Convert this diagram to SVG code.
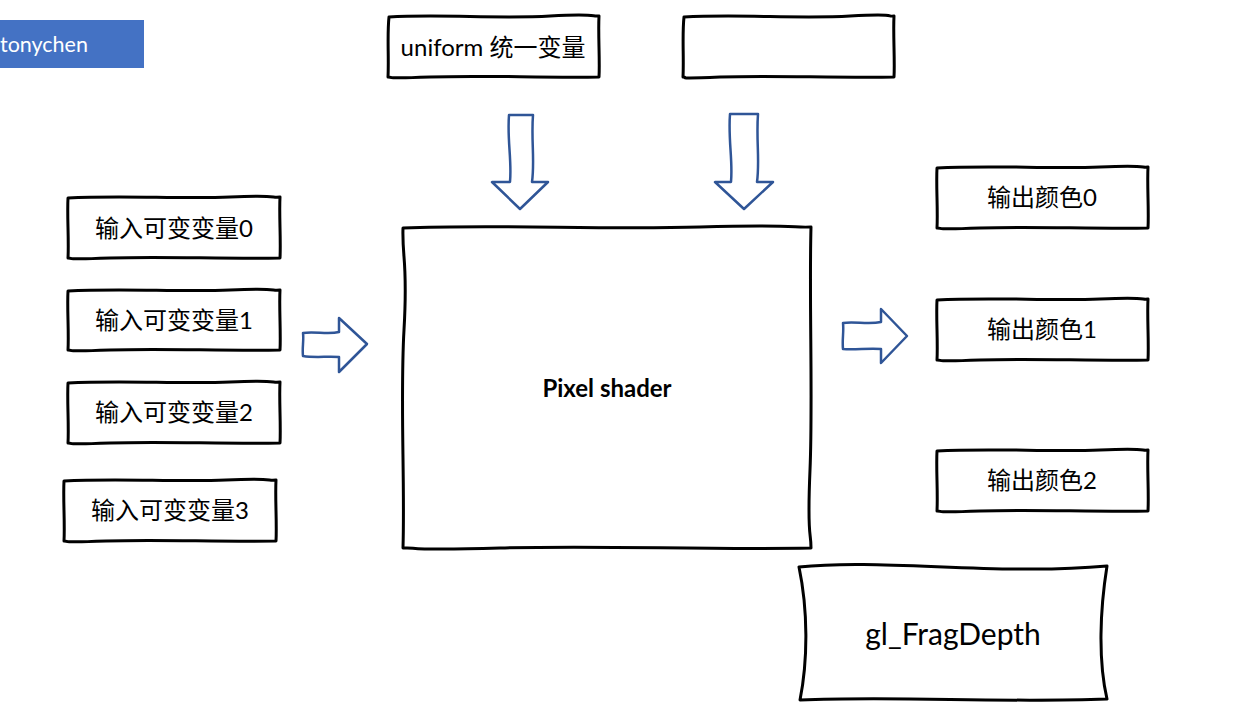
<svg xmlns="http://www.w3.org/2000/svg" width="1234" height="712" viewBox="0 0 1234 712">
<style>
.box{fill:#fff;stroke:#000;stroke-width:3;stroke-linejoin:round}
.arr{fill:#fff;stroke:#2F5597;stroke-width:2.5;stroke-linejoin:round}
.t{font-family:"Lato","Noto Sans CJK SC",sans-serif;font-size:24px;fill:#000;text-anchor:middle}
</style>
<rect width="1234" height="712" fill="#fff"/>
<g id="author">
<rect x="0" y="20" width="144" height="48" fill="#4472C4"/>
<text x="0" y="52" style="font-family:'Lato','Noto Sans',sans-serif;font-size:21.5px;fill:#fff">tonychen</text>
</g>
<g id="uniform">
<path class="box" d="M389,17 C440,14 500,19 550,16 S590,17 599,16 C598,35 600,60 599,77 C540,78 480,75 430,77 S395,77 388,77 C389,58 387,35 389,17 Z"/>
<text class="t" x="493" y="56">uniform 统一变量</text>
</g>
<g id="empty">
<path class="box" d="M684,17 C740,14 800,19 850,16 S885,17 894,16 C893,35 895,60 894,77 C830,78 770,75 720,77 S690,77 683,77 C684,58 682,35 684,17 Z"/>
</g>
<g id="in0">
<path class="box" d="M68,198 C120,195 180,199 230,197 S270,198 280,197 C279,215 281,240 280,258 C220,259 160,256 110,258 S75,258 68,258 C69,240 67,215 68,198 Z"/>
<text class="t" x="174" y="237">输入可变变量0</text>
</g>
<g id="in1">
<path class="box" d="M68,291 C120,288 180,292 230,290 S270,291 280,290 C279,308 281,333 280,350 C220,351 160,348 110,350 S75,350 68,350 C69,332 67,308 68,291 Z"/>
<text class="t" x="174" y="329">输入可变变量1</text>
</g>
<g id="in2">
<path class="box" d="M68,383 C120,380 180,384 230,382 S270,383 280,382 C279,400 281,425 280,443 C220,444 160,441 110,443 S75,443 68,443 C69,425 67,400 68,383 Z"/>
<text class="t" x="174" y="421">输入可变变量2</text>
</g>
<g id="in3">
<path class="box" d="M64,481 C116,478 176,482 226,480 S266,481 276,480 C275,498 277,523 276,541 C216,542 156,539 106,541 S71,541 64,541 C65,523 63,498 64,481 Z"/>
<text class="t" x="170" y="519">输入可变变量3</text>
</g>
<g id="shader">
<path class="box" d="M403,228 C500,224 600,230 700,227 S790,228 811,227 C809,300 813,400 810,470 S811,530 811,548 C700,550 600,545 500,548 S420,547 403,548 C405,480 400,400 404,330 S402,260 403,228 Z"/>
<text x="607" y="397" style="font-family:'Lato','Noto Sans',sans-serif;font-size:24px;font-weight:bold;fill:#000;text-anchor:middle">Pixel shader</text>
</g>
<g id="out0">
<path class="box" d="M937,168 C990,165 1050,169 1100,167 S1140,168 1148,167 C1147,185 1149,210 1148,228 C1090,229 1030,226 980,228 S945,228 937,228 C938,210 936,185 937,168 Z"/>
<text class="t" x="1042" y="206">输出颜色0</text>
</g>
<g id="out1">
<path class="box" d="M937,300 C990,297 1050,301 1100,299 S1140,300 1148,299 C1147,317 1149,342 1148,360 C1090,361 1030,358 980,360 S945,360 937,360 C938,342 936,317 937,300 Z"/>
<text class="t" x="1042" y="338">输出颜色1</text>
</g>
<g id="out2">
<path class="box" d="M937,451 C990,448 1050,452 1100,450 S1140,451 1148,450 C1147,468 1149,493 1148,511 C1090,512 1030,509 980,511 S945,511 937,511 C938,493 936,468 937,451 Z"/>
<text class="t" x="1042" y="489">输出颜色2</text>
</g>
<g id="fragdepth">
<path class="box" d="M799,567 C880,558 1000,576 1107,566 C1100,610 1098,660 1107,699 C1000,703 900,696 800,700 C808,660 808,610 799,567 Z"/>
<text x="953" y="645" style="font-family:'Lato','Noto Sans',sans-serif;font-size:30px;fill:#000;text-anchor:middle">gl_FragDepth</text>
</g>
<g id="connectors">
<path class="arr" d="M509,115 L533,115 C531,140 535,160 532,182 L548,182 L520,209 L492,182 L510,182 C512,160 507,140 509,115 Z"/>
<path class="arr" d="M730,114 L758,114 C756,140 760,160 757,182 L773,182 L744,209 L715,182 L731,182 C733,160 728,140 730,114 Z"/>
<path class="arr" d="M303,333 C315,331 328,335 339,332 L339,318 L367,344 L339,372 L339,357 C328,356 315,358 303,356 C302,348 304,340 303,333 Z"/>
<path class="arr" d="M843,323 C855,321 868,325 881,322 L881,309 L907,336 L881,363 L881,349 C868,348 855,350 843,349 C842,340 844,331 843,323 Z"/>
</g>
</svg>
